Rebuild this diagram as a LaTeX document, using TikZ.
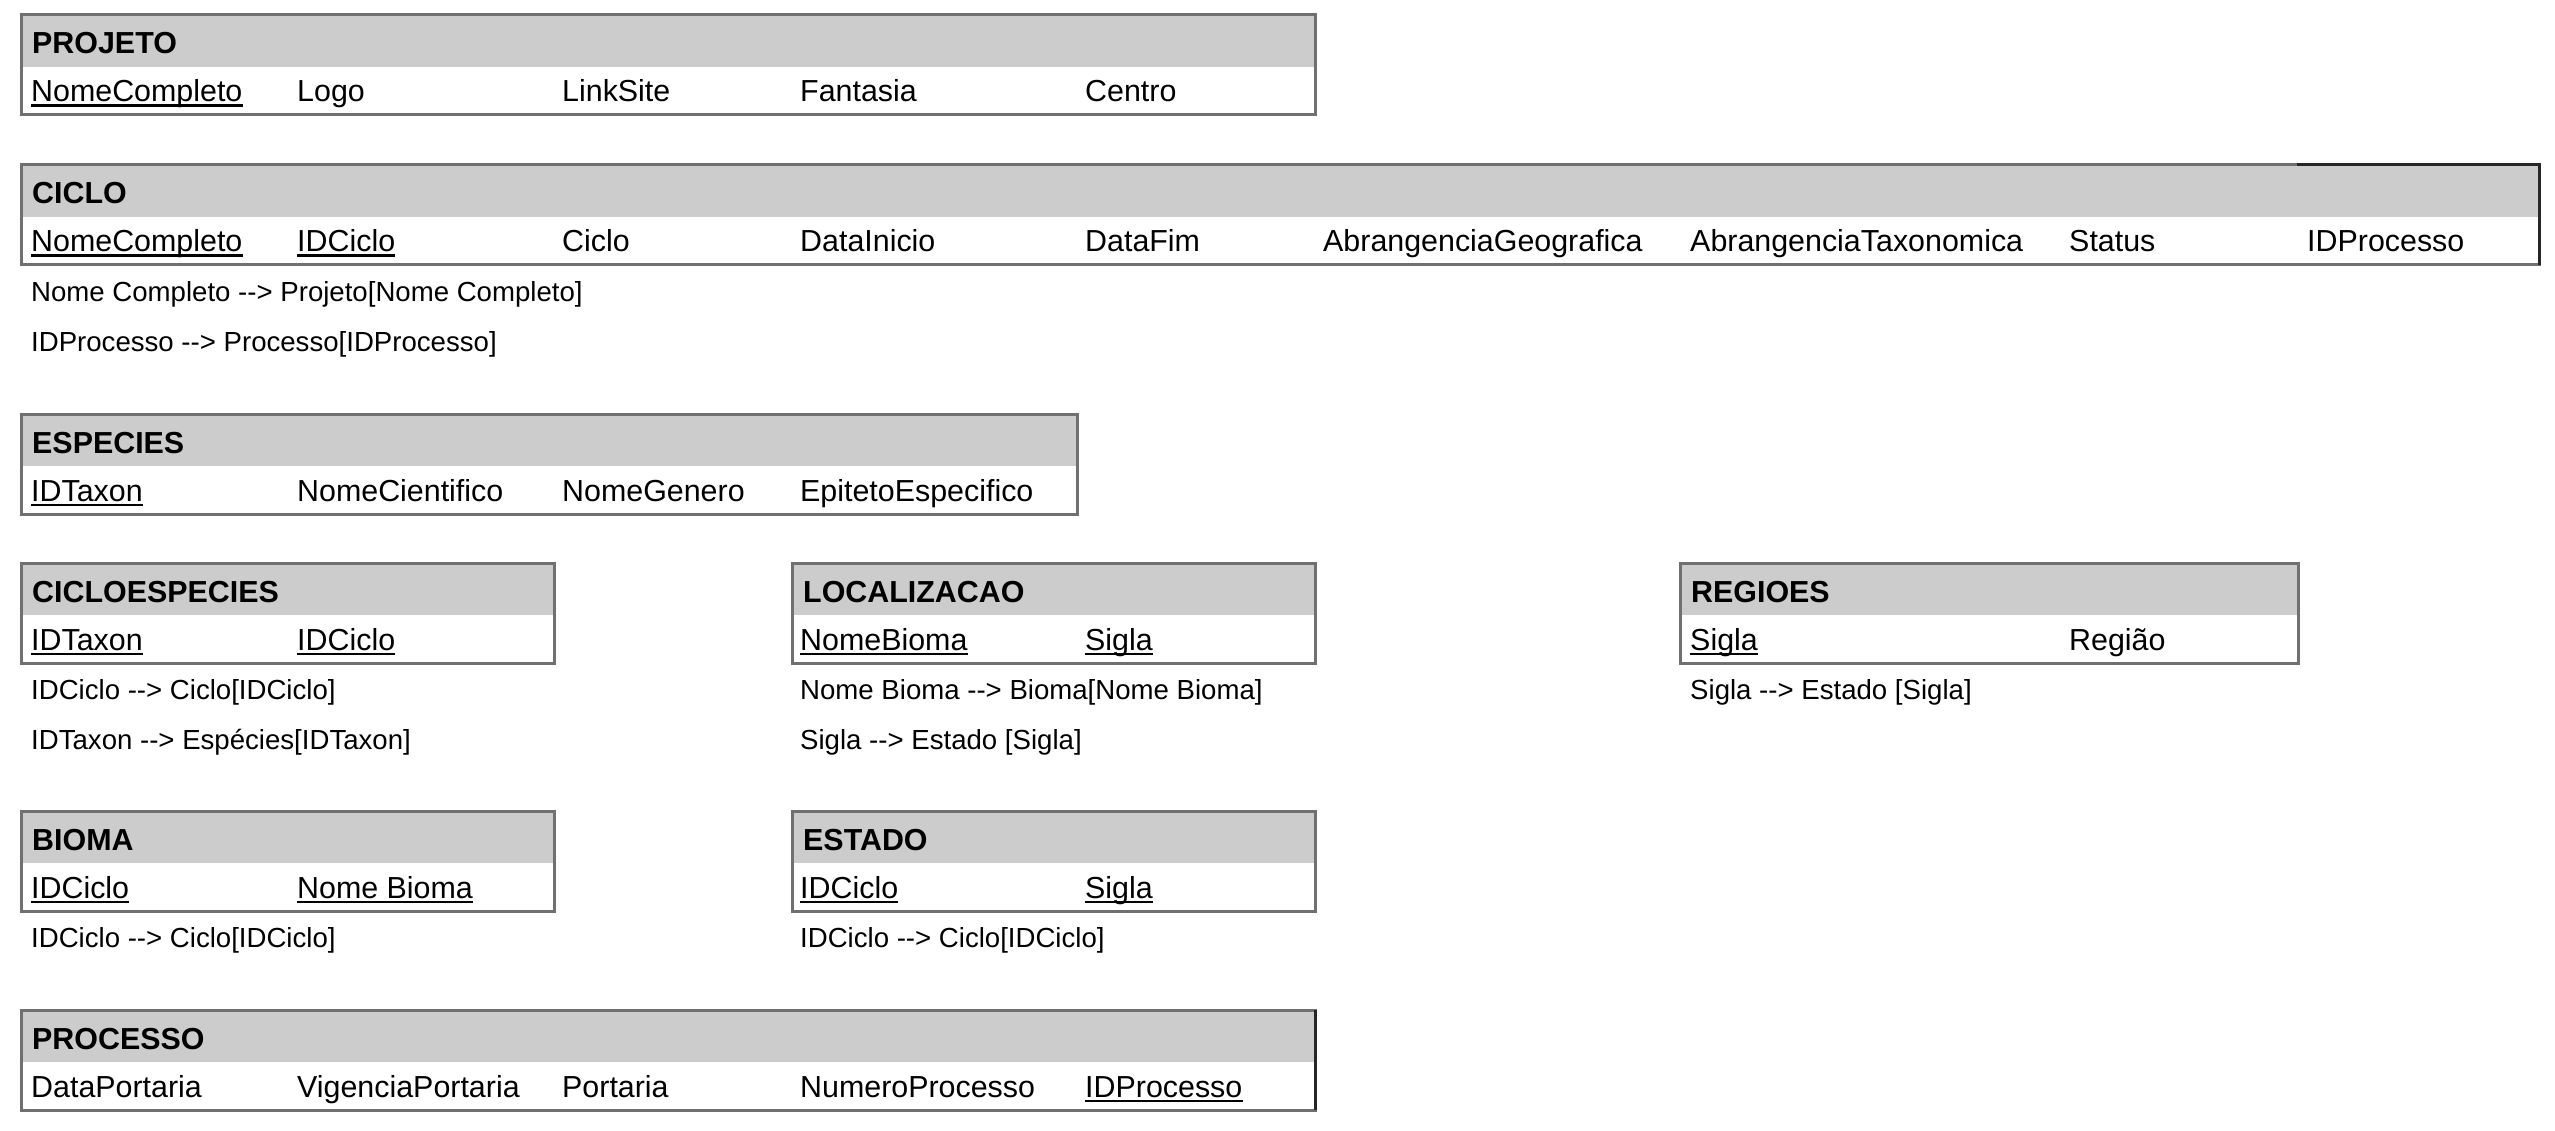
\documentclass[tikz,border=0pt]{standalone}
\usepackage{fontspec}
\setmainfont{Liberation Sans}
\begin{document}
\begin{tikzpicture}[x=1pt,y=-1pt,
  hdrfill/.style={fill=hdrgray},
  frame/.style={draw=framegray, line width=3pt},
  darkedge/.style={draw=black!85, line width=3pt},
  titletext/.style={anchor=base west, inner sep=0pt, font=\fontsize{30.4pt}{36pt}\selectfont\bfseries},
  celltext/.style={anchor=base west, inner sep=0pt, font=\fontsize{30.4pt}{36pt}\selectfont},
  notetext/.style={anchor=base west, inner sep=0pt, font=\fontsize{27.6pt}{33pt}\selectfont},
  ul/.style={draw=black, line width=2.2pt}
]
\definecolor{hdrgray}{HTML}{CCCCCC}
\definecolor{framegray}{HTML}{707070}

% table: name, left, top, right, title
\newcommand\ertable[5]{%
  \path[hdrfill] (#2,#3) rectangle (#4,#3+52);
  \draw[frame] (#2,#3) rectangle (#4,#3+100);
  \node[titletext] (#1) at (#2+11,#3+39) {#5};}
% plain attribute and key attribute
\newcommand\fld[4]{\node[celltext] (#1) at (#2,#3) {#4};}
\newcommand\pk[4]{\node[celltext] (#1) at (#2,#3) {#4};
  \draw[ul] ([yshift=-3.6pt]#1.base west) -- ([yshift=-3.6pt]#1.base east);}
\newcommand\note[4]{\node[notetext] (#1) at (#2,#3) {#4};}

\fill[white] (0,0) rectangle (2555,1131);
\useasboundingbox (0,0) rectangle (2555,1131);

% PROJETO
\ertable{projeto}{21}{15}{1315}{PROJETO}
\pk{pj1}{31}{102}{NomeCompleto}
\fld{pj2}{297}{102}{Logo}
\fld{pj3}{562}{102}{LinkSite}
\fld{pj4}{800}{102}{Fantasia}
\fld{pj5}{1085}{102}{Centro}

% CICLO
\ertable{ciclo}{21}{165}{2539}{CICLO}
\draw[darkedge] (2297,165) -- (2539,165) -- (2539,265);
\pk{ci1}{31}{252}{NomeCompleto}
\pk{ci2}{297}{252}{IDCiclo}
\fld{ci3}{562}{252}{Ciclo}
\fld{ci4}{800}{252}{DataInicio}
\fld{ci5}{1085}{252}{DataFim}
\fld{ci6}{1323}{252}{AbrangenciaGeografica}
\fld{ci7}{1690}{252}{AbrangenciaTaxonomica}
\fld{ci8}{2069}{252}{Status}
\fld{ci9}{2307}{252}{IDProcesso}
\note{cin1}{31}{302}{Nome Completo -{}-> Projeto[Nome Completo]}
\note{cin2}{31}{352}{IDProcesso -{}-> Processo[IDProcesso]}

% ESPECIES
\ertable{especies}{21}{414}{1077}{ESPECIES}
\pk{es1}{31}{501}{IDTaxon}
\fld{es2}{297}{501}{NomeCientifico}
\fld{es3}{562}{501}{NomeGenero}
\fld{es4}{800}{501}{EpitetoEspecifico}

% CICLOESPECIES
\ertable{cicloesp}{21}{563}{554}{CICLOESPECIES}
\pk{ce1}{31}{650}{IDTaxon}
\pk{ce2}{297}{650}{IDCiclo}
\note{cen1}{31}{699}{IDCiclo -{}-> Ciclo[IDCiclo]}
\note{cen2}{31}{749}{IDTaxon -{}-> Espécies[IDTaxon]}

% LOCALIZACAO
\ertable{localizacao}{792}{563}{1315}{LOCALIZACAO}
\pk{lo1}{800}{650}{NomeBioma}
\pk{lo2}{1085}{650}{Sigla}
\note{lon1}{800}{699}{Nome Bioma -{}-> Bioma[Nome Bioma]}
\note{lon2}{800}{749}{Sigla -{}-> Estado [Sigla]}

% REGIOES
\ertable{regioes}{1680}{563}{2298}{REGIOES}
\pk{re1}{1690}{650}{Sigla}
\fld{re2}{2069}{650}{Região}
\note{ren1}{1690}{699}{Sigla -{}-> Estado [Sigla]}

% BIOMA
\ertable{bioma}{21}{811}{554}{BIOMA}
\pk{bi1}{31}{898}{IDCiclo}
\pk{bi2}{297}{898}{Nome Bioma}
\note{bin1}{31}{947}{IDCiclo -{}-> Ciclo[IDCiclo]}

% ESTADO
\ertable{estado}{792}{811}{1315}{ESTADO}
\pk{et1}{800}{898}{IDCiclo}
\pk{et2}{1085}{898}{Sigla}
\note{etn1}{800}{947}{IDCiclo -{}-> Ciclo[IDCiclo]}

% PROCESSO
\ertable{processo}{21}{1010}{1315}{PROCESSO}
\draw[darkedge] (1315,1010) -- (1315,1110);
\fld{pr1}{31}{1097}{DataPortaria}
\fld{pr2}{297}{1097}{VigenciaPortaria}
\fld{pr3}{562}{1097}{Portaria}
\fld{pr4}{800}{1097}{NumeroProcesso}
\pk{pr5}{1085}{1097}{IDProcesso}
\end{tikzpicture}
\end{document}
